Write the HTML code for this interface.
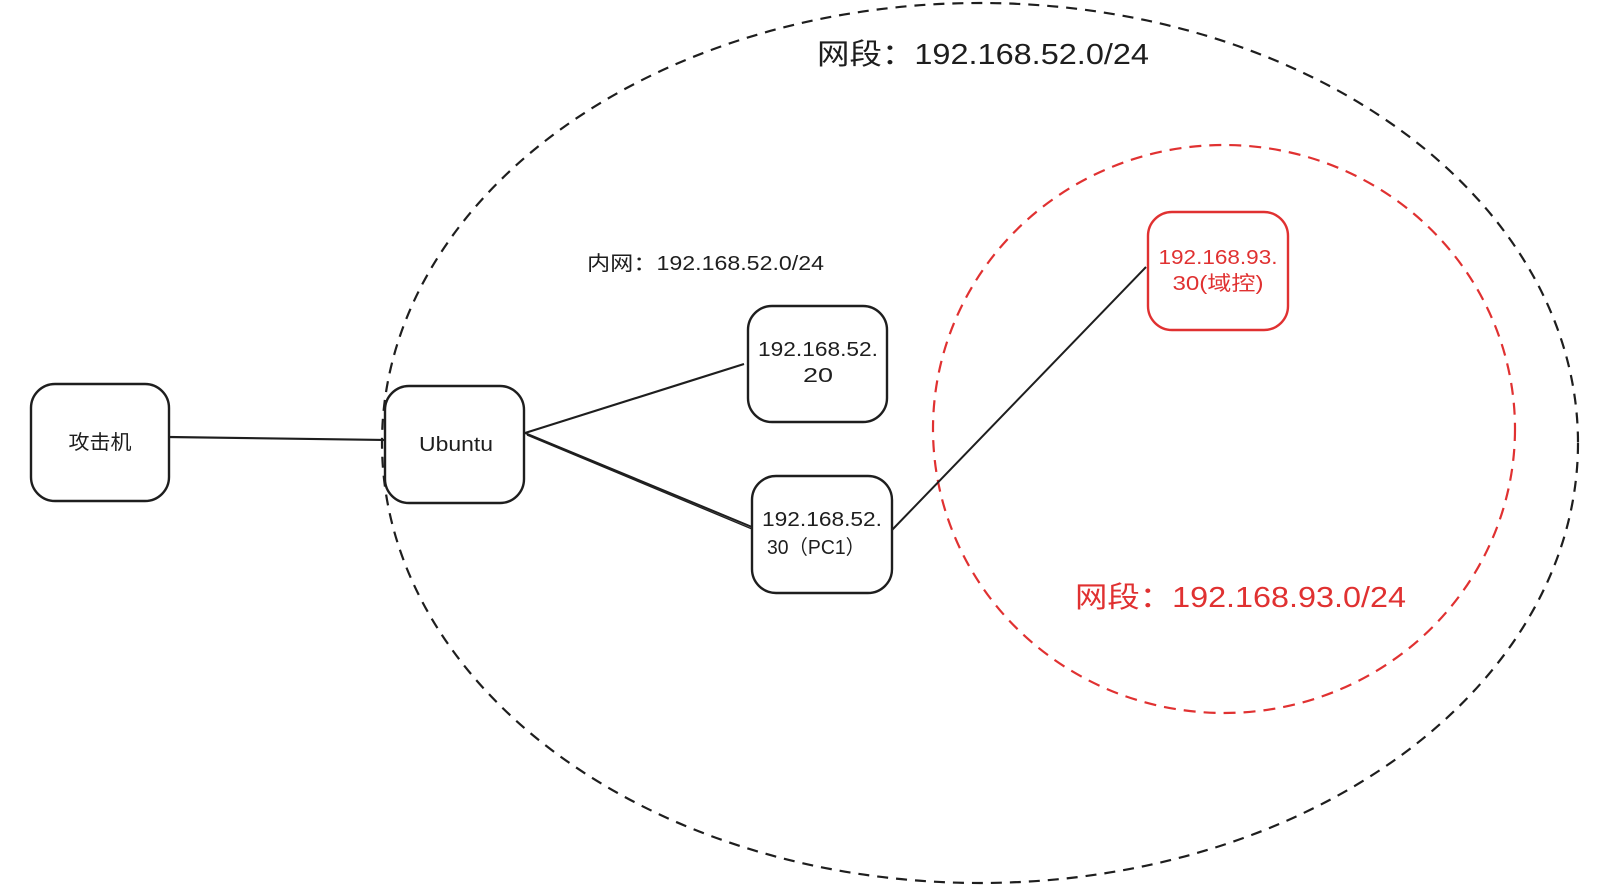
<!DOCTYPE html>
<html>
<head>
<meta charset="utf-8">
<style>
  html, body { margin: 0; padding: 0; background: #ffffff; }
  body { width: 1599px; height: 894px; overflow: hidden; }
  svg { display: block; }
  text { font-family: "Liberation Sans", "Noto Sans CJK SC", sans-serif; }
</style>
</head>
<body>
<svg width="1599" height="894" viewBox="0 0 1599 894" xmlns="http://www.w3.org/2000/svg">
  <rect x="0" y="0" width="1599" height="894" fill="#ffffff"/>

  <!-- Big dashed ellipse (black) -->
  <ellipse cx="980" cy="443" rx="598" ry="440" fill="none" stroke="#1e1e1e" stroke-width="2.2" stroke-dasharray="11 8"/>

  <!-- Red dashed ellipse -->
  <ellipse cx="1224" cy="429" rx="291" ry="284" fill="none" stroke="#e03131" stroke-width="2.2" stroke-dasharray="12 8"/>

  <!-- Connectors -->
  <line x1="168" y1="437" x2="386" y2="440" stroke="#1e1e1e" stroke-width="2.2"/>
  <line x1="525" y1="433" x2="744" y2="364" stroke="#1e1e1e" stroke-width="2.2"/>
  <line x1="525" y1="433" x2="752" y2="527" stroke="#1e1e1e" stroke-width="2"/>
  <line x1="527" y1="435" x2="752" y2="529" stroke="#1e1e1e" stroke-width="1.4"/>
  <line x1="892" y1="530" x2="1146" y2="267" stroke="#1e1e1e" stroke-width="2"/>

  <!-- Boxes -->
  <rect x="31" y="384" width="138" height="117" rx="24" ry="24" fill="#ffffff" stroke="#1e1e1e" stroke-width="2.4"/>
  <rect x="385" y="386" width="139" height="117" rx="24" ry="24" fill="#ffffff" stroke="#1e1e1e" stroke-width="2.4"/>
  <rect x="748" y="306" width="139" height="116" rx="24" ry="24" fill="#ffffff" stroke="#1e1e1e" stroke-width="2.4"/>
  <rect x="752" y="476" width="140" height="117" rx="24" ry="24" fill="#ffffff" stroke="#1e1e1e" stroke-width="2.4"/>
  <rect x="1148" y="212" width="140" height="118" rx="24" ry="24" fill="#ffffff" stroke="#e03131" stroke-width="2.4"/>

  <!-- Box labels -->
  <text x="100" y="449" font-size="20" fill="#1e1e1e" text-anchor="middle" textLength="63" lengthAdjust="spacingAndGlyphs">攻击机</text>
  <text x="456" y="451" font-size="20" fill="#1e1e1e" text-anchor="middle" textLength="74" lengthAdjust="spacingAndGlyphs">Ubuntu</text>

  <text x="818" y="356" font-size="20" fill="#1e1e1e" text-anchor="middle" textLength="120" lengthAdjust="spacingAndGlyphs">192.168.52.</text>
  <text x="818" y="382" font-size="20" fill="#1e1e1e" text-anchor="middle" textLength="30" lengthAdjust="spacingAndGlyphs">20</text>

  <text x="822" y="526" font-size="20" fill="#1e1e1e" text-anchor="middle" textLength="120" lengthAdjust="spacingAndGlyphs">192.168.52.</text>
  <text x="816" y="554" font-size="20" fill="#1e1e1e" text-anchor="middle" textLength="98" lengthAdjust="spacingAndGlyphs">30（PC1）</text>

  <text x="1218" y="264" font-size="20" fill="#e03131" text-anchor="middle" textLength="119" lengthAdjust="spacingAndGlyphs">192.168.93.</text>
  <text x="1218" y="290" font-size="20" fill="#e03131" text-anchor="middle" textLength="91" lengthAdjust="spacingAndGlyphs">30(域控)</text>

  <!-- Free labels -->
  <text x="817" y="64" font-size="29" fill="#1e1e1e" textLength="332" lengthAdjust="spacingAndGlyphs">网段：192.168.52.0/24</text>
  <text x="587" y="270" font-size="20" fill="#1e1e1e" textLength="237" lengthAdjust="spacingAndGlyphs">内网：192.168.52.0/24</text>
  <text x="1075" y="607" font-size="29" fill="#e03131" textLength="331" lengthAdjust="spacingAndGlyphs">网段：192.168.93.0/24</text>
</svg>
</body>
</html>
